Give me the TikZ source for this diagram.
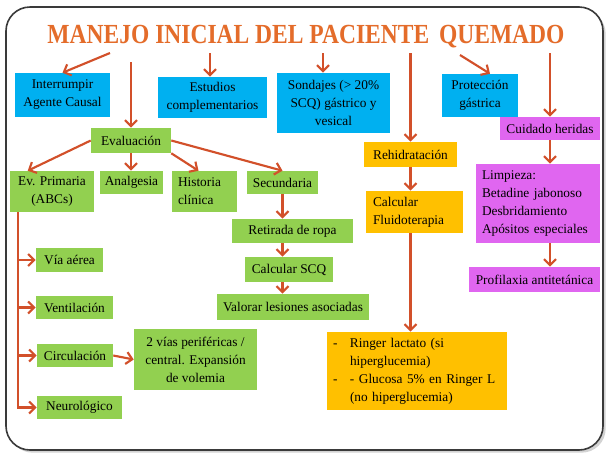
\documentclass[tikz,border=0pt]{standalone}
\usepackage{fontspec}
\setmainfont{Liberation Serif}
\usepackage{tikz}
\usetikzlibrary{arrows.meta, calc, shadows}
\definecolor{framegray}{HTML}{3A3A3A}
\definecolor{burnorange}{HTML}{E46C2A}
\definecolor{arrowrust}{HTML}{D2502A}
\definecolor{skyblue}{HTML}{00B0F0}
\definecolor{leafgreen}{HTML}{92D050}
\definecolor{ambergold}{HTML}{FFC000}
\definecolor{orchid}{HTML}{E066F0}

\begin{document}
\begin{tikzpicture}[x=0.75pt, y=-0.75pt, font=\fontsize{10}{13.5}\selectfont,
    box/.style={rectangle, inner sep=2pt, align=center, text=black},
    bluebox/.style={box, fill=skyblue},
    greenbox/.style={box, fill=leafgreen},
    goldbox/.style={box, fill=ambergold},
    pinkbox/.style={box, fill=orchid},
    link/.style={-{Straight Barb[length=4.5pt,width=9pt]}, line width=1.6pt, arrowrust}]

    \useasboundingbox (0,0) rectangle (610,458);
    \draw [line width=1.2pt, framegray, rounded corners=18pt, fill=white,
      drop shadow={shadow xshift=2pt, shadow yshift=-2pt, opacity=0.35}] (6,7) rectangle (603,450);

    \node (title) [font=\fontsize{18}{18}\selectfont\bfseries, text=burnorange, anchor=base] at (306,43) {\scalebox{0.98}[1.15]{MANEJO INICIAL DEL PACIENTE\, QUEMADO}};

    % top row
    \node (interr) [bluebox, minimum width=71.25pt, minimum height=33pt] at (62.5,95) {Interrumpir\\Agente Causal};
    \node (estud) [bluebox, minimum width=81.75pt, minimum height=30.75pt] at (212.5,97.5) {Estudios\\complementarios};
    \node (sond) [bluebox, minimum width=84.75pt, minimum height=45pt] at (333.5,103) {Sondajes (> 20\%\\SCQ) gástrico y\\vesical};
    \node (prot) [bluebox, minimum width=57pt, minimum height=32.25pt] at (480,95.5) {Protección\\gástrica};

    % wound care
    \node (cuid) [pinkbox, minimum width=75pt, minimum height=17.25pt] at (550,128.5) {Cuidado heridas};
    \node (limp) [pinkbox, minimum height=59.25pt, text width=84pt, inner xsep=4.5pt, align=left] at (538,203.5) {Limpieza:\\Betadine jabonoso\\Desbridamiento\\Apósitos especiales};
    \node (profil) [pinkbox, minimum width=98.25pt, minimum height=18.75pt] at (534.5,279.5) {Profilaxia antitetánica};

    % fluids
    \node (rehid) [goldbox, minimum width=69.75pt, minimum height=18.75pt] at (410.5,154.5) {Rehidratación};
    \node (fluid) [goldbox, minimum height=31.5pt, text width=62.25pt, inner xsep=5.25pt, align=left] at (414.5,212) {Calcular\\Fluidoterapia};
    \node (ringer) [goldbox, minimum height=58.5pt, text width=126pt, inner xsep=4.5pt, align=left] at (417,371)
      {\begin{tabular}{@{}p{12.75pt}@{}l@{}}
        - & Ringer lactato (si\\
          & hiperglucemia)\\
        - & - Glucosa 5\% en Ringer L\\
          & (no hiperglucemia)
      \end{tabular}};

    % evaluation
    \node (eval) [greenbox, minimum width=60pt, minimum height=18.75pt] at (131,140.5) {Evaluación};
    \node (evp) [greenbox, minimum width=63pt, minimum height=30.75pt] at (52,191.5) {Ev. Primaria\\(ABCs)};
    \node (analg) [greenbox, minimum width=47.25pt, minimum height=17.25pt] at (131.5,182.5) {Analgesia};
    \node (hist) [greenbox, minimum height=30.75pt, text width=39.75pt, inner xsep=4.5pt, align=left] at (204.5,191.5) {Historia\\clínica};
    \node (secu) [greenbox, minimum width=53.25pt, minimum height=17.25pt] at (282.5,182.5) {Secundaria};
    \node (reti) [greenbox, minimum width=90.75pt, minimum height=18pt] at (292.5,231) {Retirada de ropa};
    \node (scq) [greenbox, minimum width=66pt, minimum height=18.75pt] at (289,269.5) {Calcular SCQ};
    \node (valor) [greenbox, minimum width=114pt, minimum height=19.5pt] at (293,307) {Valorar lesiones asociadas};
    \node (via) [greenbox, minimum width=50.25pt, minimum height=18pt] at (69.5,260) {Vía aérea};
    \node (vent) [greenbox, minimum width=57.75pt, minimum height=17.25pt] at (74.5,307.5) {Ventilación};
    \node (circ) [greenbox, minimum width=57pt, minimum height=17.25pt] at (75,355.5) {Circulación};
    \node (neuro) [greenbox, minimum width=63.75pt, minimum height=17.25pt] at (79.5,407.5) {Neurológico};
    \node (dosv) [greenbox, minimum width=92.25pt, minimum height=45.75pt] at (195.5,359.5) {2 vías periféricas /\\central. Expansión\\de volemia};

    % arrows from the title
    \coordinate (tInterr) at (110,53);
    \coordinate (tEval) at (131,62);
    \coordinate (tEstud) at (210,53);
    \coordinate (tSond) at (323,53);
    \coordinate (tRehid) at (410.5,53);
    \coordinate (tProt) at (460,55);
    \coordinate (tCuid) at (550,53);
    \draw [link] (tInterr) -- (interr.north);
    \draw [link] (tEval) -- (eval.north);
    \draw [link] (tEstud) -- (tEstud |- estud.north);
    \draw [link] (tSond) -- (tSond |- sond.north);
    \draw [link] (tRehid) -- (rehid.north);
    \draw [link] (tProt) -- ($(prot.north)+(10,0)$);
    \draw [link] (tCuid) -- (cuid.north);

    \draw [link] (eval.west) -- ($(evp.north west)+(18,0)$);
    \draw [link] (eval.south) -- (eval.south |- analg.north);
    \draw [link] (eval.south east) -- ($(hist.north)+(-6,0)$);
    \draw [link] (eval.east) -- (secu.north);

    \draw [link] (secu.south) -- (secu.south |- reti.north);
    \draw [link] (secu.south |- reti.south) -- (secu.south |- scq.north);
    \draw [link] (secu.south |- scq.south) -- (secu.south |- valor.north);

    % ABC spine
    \coordinate (spine) at ($(evp.south west)+(8,0)$);
    \draw [link] (spine) |- (neuro.west);
    \foreach \abc in {via, vent, circ}
      \draw [link] (spine |- \abc.west) -- (\abc.west);
    \draw [link] (circ.east) -- (dosv.west);

    \draw [link] (rehid.south) -- (rehid.south |- fluid.north);
    \draw [link] (rehid.south |- fluid.south) -- (rehid.south |- ringer.north);
    \draw [link] (cuid.south) -- (cuid.south |- limp.north);
    \draw [link] (cuid.south |- limp.south) -- (cuid.south |- profil.north);
\end{tikzpicture}
\end{document}
